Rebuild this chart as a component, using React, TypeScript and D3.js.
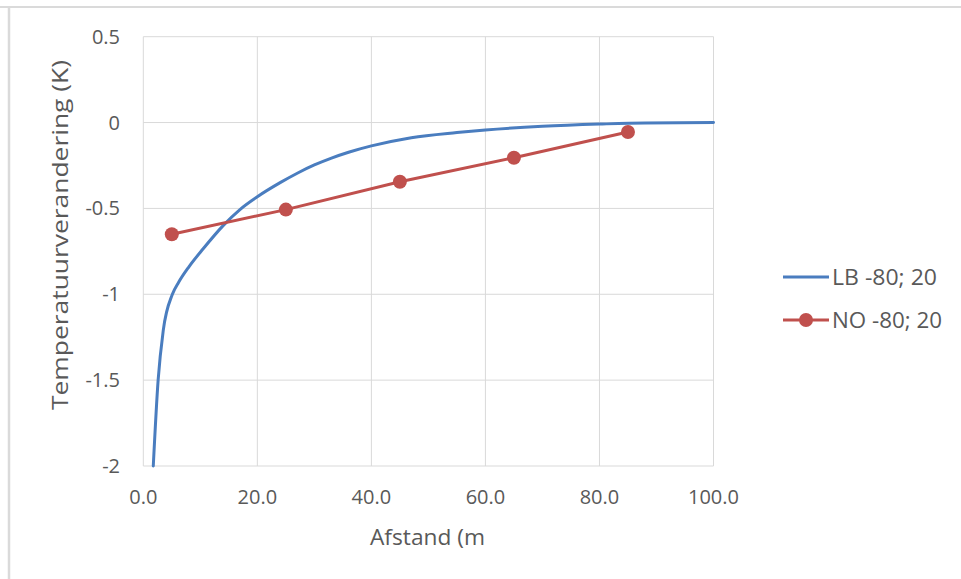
import React, { useEffect, useRef } from "react";
import * as d3 from "d3";

const xTicks = [0, 20, 40, 60, 80, 100];
const yTicks = [0.5, 0, -0.5, -1, -1.5, -2];

const lbX = [1.75, 2.6, 3.5, 5.1, 6.2, 8, 10.5, 14, 17, 20, 24, 27, 30, 33, 36, 40, 47, 55, 60, 70, 80, 88, 100];
const lbY = [-2, -1.5, -1.21, -1.0, -0.93, -0.84, -0.735, -0.6, -0.505, -0.432, -0.35, -0.295, -0.247, -0.207, -0.173, -0.136, -0.088, -0.058, -0.043, -0.022, -0.009, -0.002, 0];

const noX = [5, 25, 45, 65, 85];
const noY = [-0.65, -0.507, -0.345, -0.205, -0.055];

const seriesNames = ["LB -80; 20", "NO -80; 20"];
const legendWidths = [105, 110];
const colors = ["#4a7dbf", "#c0504d"];

export default function App() {
  const ref = useRef<SVGSVGElement | null>(null);

  useEffect(() => {
    const svg = d3.select(ref.current);
    svg.selectAll("*").remove();

    const x = d3.scaleLinear().domain([0, 100]).range([143.3, 713.5]);
    const y = d3.scaleLinear().domain([-2, 0.5]).range([466, 36.7]);
    const font = "'Open Sans', sans-serif";
    const textColor = "#595959";

    // outer border (top and left visible)
    svg.append("line").attr("x1", 0).attr("x2", 961).attr("y1", 7).attr("y2", 7)
      .attr("stroke", "#dadada").attr("stroke-width", 2);
    svg.append("line").attr("x1", 9).attr("x2", 9).attr("y1", 6).attr("y2", 579)
      .attr("stroke", "#dadada").attr("stroke-width", 2.5);

    const g = svg.append("g");
    // gridlines
    g.selectAll(".gx").data(xTicks).enter().append("line")
      .attr("x1", (d) => x(d)).attr("x2", (d) => x(d))
      .attr("y1", y(0.5)).attr("y2", y(-2))
      .attr("stroke", "#d9d9d9").attr("stroke-width", 1);
    g.selectAll(".gy").data(yTicks).enter().append("line")
      .attr("x1", x(0)).attr("x2", x(100))
      .attr("y1", (d) => y(d)).attr("y2", (d) => y(d))
      .attr("stroke", "#d9d9d9").attr("stroke-width", 1);

    // tick labels
    g.selectAll(".tx").data(xTicks).enter().append("text")
      .attr("x", (d) => x(d)).attr("y", 504)
      .attr("text-anchor", "middle").attr("font-family", font).attr("font-size", 20)
      .attr("fill", textColor).text((d) => d3.format(".1f")(d));
    g.selectAll(".ty").data(yTicks).enter().append("text")
      .attr("x", 120).attr("y", (d) => y(d) + 7)
      .attr("text-anchor", "end").attr("font-family", font).attr("font-size", 20)
      .attr("fill", textColor).text((d) => String(d));

    // axis titles
    svg.append("text").attr("x", 370).attr("y", 545)
      .attr("font-family", font).attr("font-size", 21)
      .attr("textLength", 115).attr("lengthAdjust", "spacingAndGlyphs")
      .attr("fill", textColor).text("Afstand (m");
    svg.append("text")
      .attr("transform", `translate(68,410) rotate(-90)`)
      .attr("font-family", font).attr("font-size", 21)
      .attr("textLength", 350).attr("lengthAdjust", "spacingAndGlyphs")
      .attr("fill", textColor).text("Temperatuurverandering (K)");

    // lines
    const lbData = lbX.map((v, i) => [v, lbY[i]] as [number, number]);
    const noData = noX.map((v, i) => [v, noY[i]] as [number, number]);
    const lineGen = d3.line<[number, number]>().x((d) => x(d[0])).y((d) => y(d[1]));

    svg.append("path").datum(lbData)
      .attr("d", lineGen.curve(d3.curveMonotoneX))
      .attr("fill", "none").attr("stroke", colors[0]).attr("stroke-width", 3)
      .attr("stroke-linecap", "round");

    svg.append("path").datum(noData)
      .attr("d", d3.line<[number, number]>().x((d) => x(d[0])).y((d) => y(d[1])))
      .attr("fill", "none").attr("stroke", colors[1]).attr("stroke-width", 3);
    svg.selectAll(".pt").data(noData).enter().append("circle")
      .attr("cx", (d) => x(d[0])).attr("cy", (d) => y(d[1])).attr("r", 7)
      .attr("fill", colors[1]);

    // legend
    const leg = svg.append("g");
    const ly = [277, 320];
    seriesNames.forEach((name, i) => {
      leg.append("line").attr("x1", 783).attr("x2", 829)
        .attr("y1", ly[i]).attr("y2", ly[i])
        .attr("stroke", colors[i]).attr("stroke-width", 3);
      if (i === 1) {
        leg.append("circle").attr("cx", 806).attr("cy", ly[i]).attr("r", 7).attr("fill", colors[i]);
      }
      leg.append("text").attr("x", 832).attr("y", ly[i] + 7.5)
        .attr("font-family", font).attr("font-size", 21).attr("fill", textColor)
        .attr("textLength", legendWidths[i]).attr("lengthAdjust", "spacingAndGlyphs")
        .text(name);
    });
  }, []);

  return (
    <svg
      ref={ref}
      width={961}
      height={579}
      style={{ position: "absolute", left: 0, top: 0, background: "#fff" }}
    />
  );
}
